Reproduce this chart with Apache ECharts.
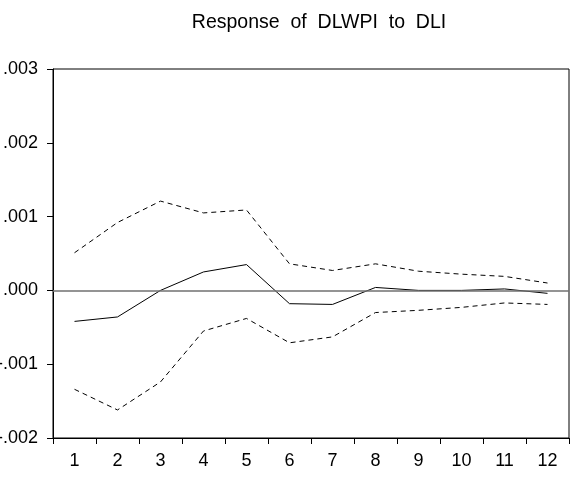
<!DOCTYPE html>
<html>
<head>
<meta charset="utf-8">
<script src="https://cdn.jsdelivr.net/npm/echarts@6/dist/echarts.min.js"></script>
<style>
  html, body { margin: 0; padding: 0; background: #fff; }
  #chart { width: 573px; height: 479px; }
</style>
</head>
<body>
<div id="chart"></div>
<script>
// Impulse response periods
const periods = ['1', '2', '3', '4', '5', '6', '7', '8', '9', '10', '11', '12'];

// Response of DLWPI to a DLI shock
const response = [-0.00042, -0.00036, 0.0, 0.00025, 0.00035, -0.00018, -0.00019, 0.00004, 0.0, 0.0, 0.00002, -0.00004];

// +/- 2 S.E. bands
const upperBand = [0.00051, 0.00092, 0.00121, 0.00105, 0.00109, 0.00036, 0.00027, 0.00036, 0.00026, 0.00022, 0.00019, 0.00010];
const lowerBand = [-0.00134, -0.00162, -0.00124, -0.00055, -0.00038, -0.00071, -0.00063, -0.00030, -0.00027, -0.00023, -0.00017, -0.00019];

const yTicks = [-0.002, -0.001, 0.0, 0.001, 0.002, 0.003];

// EViews-style tick text: no leading zero (".001", "-.002")
function fmtTick(v) {
  const s = Math.abs(v).toFixed(3).replace(/^0/, '');
  return (v < -1e-12 ? '-' : '') + s;
}

const chart = echarts.init(document.getElementById('chart'), null, { renderer: 'canvas' });

const font = 'Liberation Sans, Arial, sans-serif';

chart.setOption({
  animation: false,
  backgroundColor: '#ffffff',
  title: {
    text: 'Response  of  DLWPI  to  DLI',
    left: 314,
    textAlign: 'center',
    top: 8,
    textStyle: { fontFamily: font, fontSize: 19.5, fontWeight: 'normal', color: '#000' }
  },
  grid: {
    left: 53, right: 4, top: 69, bottom: 41,
    containLabel: false,
    outerBoundsMode: 'none',
    show: true, borderColor: '#000', borderWidth: 1, backgroundColor: 'transparent'
  },
  xAxis: {
    type: 'category',
    data: periods,
    boundaryGap: true,
    axisLine: { show: true, onZero: false, lineStyle: { color: '#000', width: 1 } },
    axisTick: { show: true, inside: false, length: 6, interval: 0, alignWithLabel: false, lineStyle: { color: '#000' } },
    axisLabel: { margin: 14, fontFamily: font, fontSize: 18, color: '#000', interval: 0 },
    splitLine: { show: false }
  },
  yAxis: {
    type: 'value',
    min: yTicks[0],
    max: yTicks[yTicks.length - 1],
    interval: 0.001,
    axisLine: { show: true, onZero: false, lineStyle: { color: '#000', width: 1 } },
    axisTick: { show: true, inside: false, length: 6, lineStyle: { color: '#000' } },
    axisLabel: { margin: 15, fontFamily: font, fontSize: 18, color: '#000', formatter: fmtTick },
    splitLine: { show: false }
  },
  series: [
    {
      name: 'Response',
      type: 'line',
      data: response,
      symbol: 'none',
      lineStyle: { color: '#000', width: 1, type: 'solid' },
      z: 3,
      markLine: {
        silent: true,
        symbol: 'none',
        label: { show: false },
        lineStyle: { color: '#707070', width: 1.5, type: 'solid' },
        data: [{ yAxis: 0 }]
      }
    },
    {
      name: 'Upper',
      type: 'line',
      data: upperBand,
      symbol: 'none',
      lineStyle: { color: '#000', width: 1, type: [5, 4] }
    },
    {
      name: 'Lower',
      type: 'line',
      data: lowerBand,
      symbol: 'none',
      lineStyle: { color: '#000', width: 1, type: [5, 4] }
    }
  ]
});
</script>
</body>
</html>
